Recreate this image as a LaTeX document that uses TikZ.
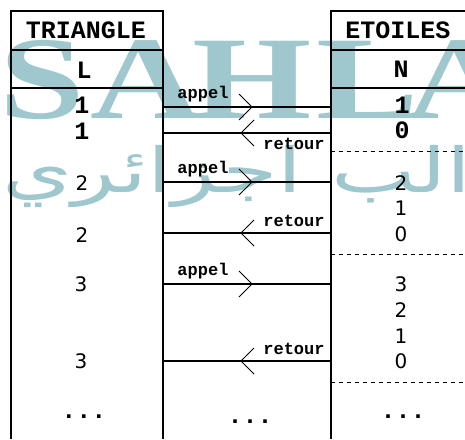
\documentclass[tikz,border=0pt]{standalone}
\usepackage{fontspec}
\usepackage{graphicx}
\newfontfamily\monofnt{Liberation Mono}
\newfontfamily\djfnt{DejaVu Sans}
\newfontfamily\arabicfont[Script=Arabic]{DejaVu Sans}
\newfontfamily\wmfnt{Liberation Serif}
\TeXXeTstate=1
\definecolor{wmteal}{HTML}{9FC7CE}
\begin{document}
\begin{tikzpicture}[x=1pt,y=-1pt,
  wmletter/.style={anchor=base,inner sep=0,text=wmteal,font=\wmfnt\bfseries\fontsize{118}{118}\selectfont},
  hdr/.style={inner sep=0,font=\monofnt\bfseries\fontsize{25}{25}\selectfont},
  numA/.style={inner sep=0,font=\monofnt\bfseries\fontsize{25}{25}\selectfont},
  numB/.style={inner sep=0,font=\djfnt\fontsize{20}{20}\selectfont},
  lbl/.style={inner sep=0,font=\monofnt\bfseries\fontsize{17}{17}\selectfont},
  boxline/.style={line width=1.4pt},
  sepline/.style={line width=1pt,dash pattern=on 4pt off 4pt},
  conn/.style={line width=1.2pt},
  head/.style={line width=0.9pt}]
\useasboundingbox (0,0) rectangle (465,439);
% watermark
\node[wmletter] (wS) at (42,118) {\scalebox{1.3}[1]{S}};
\node[wmletter] (wA) at (146,118) {\scalebox{1.3}[1]{A}};
\node[wmletter] (wH) at (252,118) {\scalebox{1.3}[1]{H}};
\node[wmletter] (wL) at (368,118) {\scalebox{1.3}[1]{L}};
\node[wmletter] (wA2) at (462,118) {\scalebox{1.3}[1]{A}};
\node[anchor=base east,inner sep=0,text=wmteal] (wAr) at (472,192)
  {\scalebox{1.45}[1]{\arabicfont\fontsize{62}{62}\selectfont\beginR الب اجزائري\endR}};
% left box
\draw[boxline] (11,439) -- (11,11) -- (163,11) -- (163,439);
\draw[boxline] (11,50) -- (163,50);
\draw[boxline] (11,88) -- (163,88);
% right box
\draw[boxline] (465,11) -- (331,11) -- (331,439);
\draw[boxline] (331,50) -- (465,50);
\draw[boxline] (331,88) -- (465,88);
\draw[sepline] (331,151) -- (465,151);
\draw[sepline] (331,254) -- (465,254);
\draw[sepline] (331,382) -- (465,382);
% headers
\node[hdr] (tri) at (86,30) {TRIANGLE};
\node[hdr] (eto) at (398,30) {ETOILES};
\node[hdr] (L) at (84,70) {L};
\node[hdr] (N) at (401,69) {N};
% left values
\node[numA] (l1a) at (82,105) {1};
\node[numA] (l1b) at (82,131) {1};
\node[numB] (l2a) at (82,183) {2};
\node[numB] (l2b) at (82,235) {2};
\node[numB] (l3a) at (81,284) {3};
\node[numB] (l3b) at (81,361) {3};
\node[numA] (ldots) at (84,417) {...};
% right values
\node[numA] (r1) at (402,105) {1};
\node[numA] (r0) at (402,130) {0};
\node[numB] (r2a) at (401,183) {2};
\node[numB] (r1a) at (401,208) {1};
\node[numB] (r0a) at (401,234) {0};
\node[numB] (r3b) at (401,284) {3};
\node[numB] (r2b) at (401,310) {2};
\node[numB] (r1b) at (401,336) {1};
\node[numB] (r0b) at (401,361) {0};
\node[numA] (rdots) at (403,417) {...};
\node[numA] (mdots) at (250,422) {...};
% connector endpoints
\coordinate (a1L) at (163,107); \coordinate (a1R) at (331,107); \coordinate (a1T) at (252,107);
\coordinate (b1L) at (163,133); \coordinate (b1R) at (331,133); \coordinate (b1T) at (241,133);
\coordinate (a2L) at (163,182); \coordinate (a2R) at (331,182); \coordinate (a2T) at (252,182);
\coordinate (b2L) at (163,233); \coordinate (b2R) at (331,233); \coordinate (b2T) at (241,233);
\coordinate (a3L) at (163,284); \coordinate (a3R) at (331,284); \coordinate (a3T) at (252,284);
\coordinate (b3L) at (163,361); \coordinate (b3R) at (331,361); \coordinate (b3T) at (241,361);
% appel
\foreach \n in {a1,a2,a3}{
  \draw[conn] (\n L) -- (\n R);
  \draw[head] ([shift={(-13,-13)}]\n T) -- (\n T) -- ([shift={(-13,13)}]\n T);
}
% retour
\foreach \n in {b1,b2,b3}{
  \draw[conn] (\n R) -- (\n L);
  \draw[head] ([shift={(13,-13)}]\n T) -- (\n T) -- ([shift={(13,13)}]\n T);
}
\node[lbl] (ap1) at (203,94) {appel};
\node[lbl] (ap2) at (203,169) {appel};
\node[lbl] (ap3) at (203,271) {appel};
\node[lbl] (rt1) at (294,144) {retour};
\node[lbl] (rt2) at (294,221) {retour};
\node[lbl] (rt3) at (294,349) {retour};
\end{tikzpicture}
\end{document}
